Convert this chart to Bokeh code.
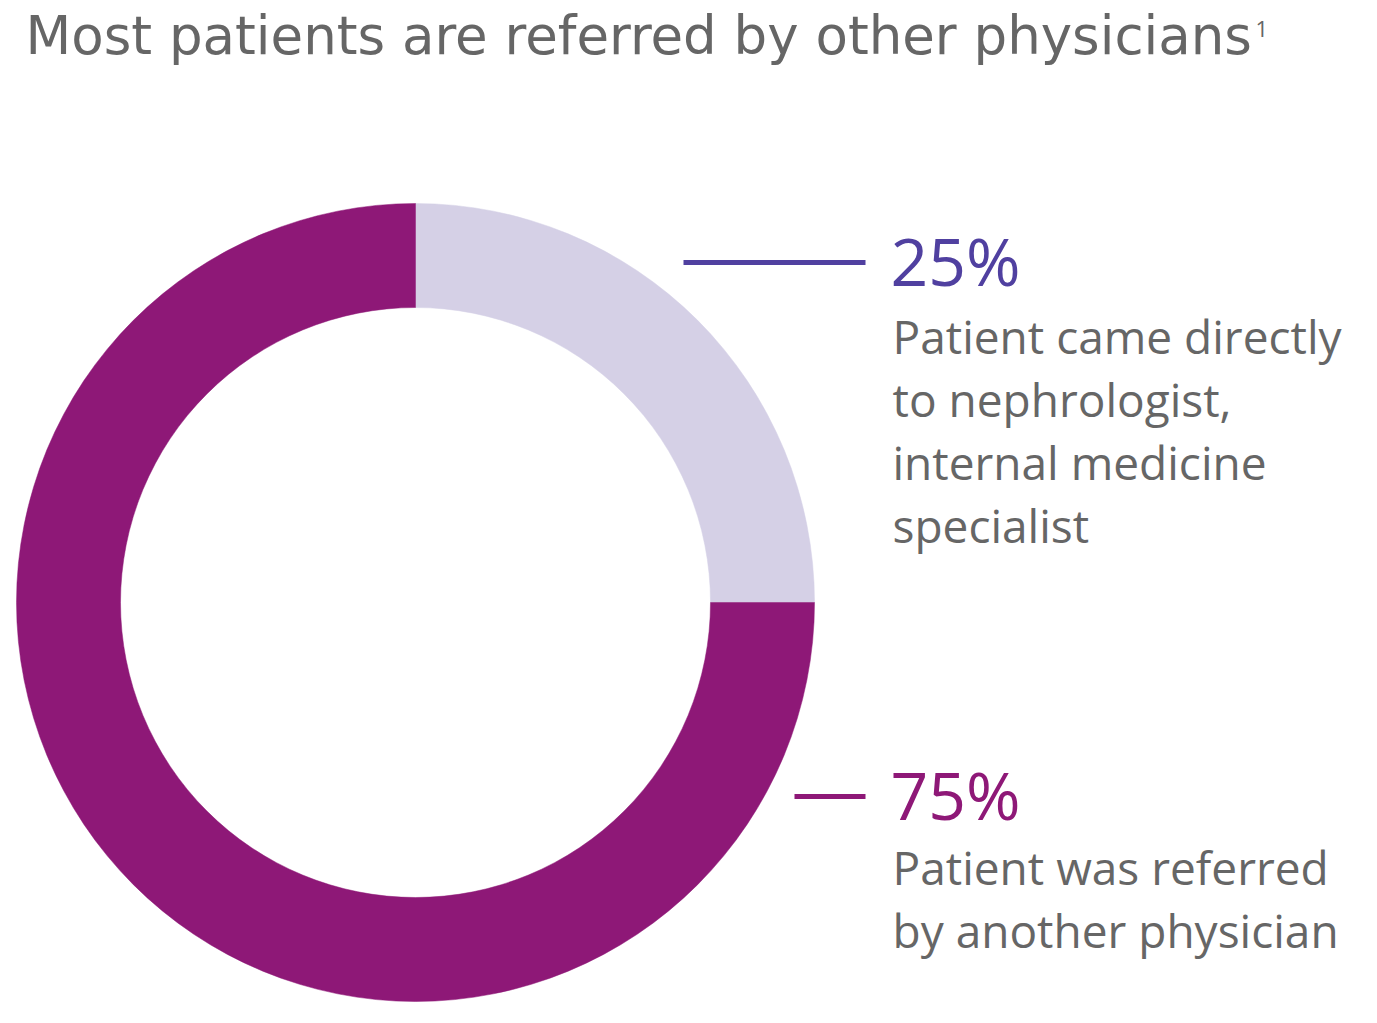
import math
from bokeh.plotting import figure
from bokeh.models import Range1d, ColumnDataSource
from bokeh.core.properties import value
from bokeh.embed import file_html
from bokeh.resources import INLINE

# ---- data ----
title_text = "Most patients are referred by other physicians"
footnote = "1"
categories = ["Came directly", "Referred"]
shares = [25, 75]
pct_labels = ["25%", "75%"]
desc_direct = ["Patient came directly", "to nephrologist,", "internal medicine", "specialist"]
desc_referred = ["Patient was referred", "by another physician"]

ring_colors = ["#D5D0E6", "#8E1877"]
accent_colors = ["#5040A0", "#8E1877"]
gray = "#666666"
FONT = "Open Sans"
TITLE_FONT = "DejaVu Sans"

W, H = 1360, 1005
p = figure(width=W, height=H, x_range=Range1d(0, W), y_range=Range1d(0, H),
           output_backend="svg", toolbar_location=None, min_border=0)
p.axis.visible = False
p.grid.visible = False
p.outline_line_color = None
p.background_fill_color = "white"
p.border_fill_color = "white"

def Y(sy):
    return H - sy
def X(sx):
    return sx

def tb(baseline, size):
    # compensate for the renderer's baseline placement
    return Y(baseline - 0.43 * size)

# donut wedges: start at top, go clockwise
total = float(sum(shares))
starts, ends = [], []
cum = 0.0
for s in shares:
    end = math.pi / 2 - cum / total * 2 * math.pi
    cum += s
    start = math.pi / 2 - cum / total * 2 * math.pi
    starts.append(start)
    ends.append(end)
src = ColumnDataSource(dict(cat=categories, start=starts, end=ends, color=ring_colors))
p.annular_wedge(x=X(415), y=Y(602), inner_radius=295, outer_radius=399,
                start_angle="start", end_angle="end", fill_color="color",
                line_color="color", line_width=0.5, source=src)

# title
p.text(x=[X(25)], y=[tb(58, 53)], text=[title_text], text_font=value(TITLE_FONT),
       text_font_size="53px", text_color=gray, text_baseline="alphabetic", text_align="left")
p.text(x=[X(1255)], y=[tb(38, 22)], text=[footnote], text_font=value(FONT),
       text_font_size="22px", text_color=gray, text_baseline="alphabetic", text_align="left")

# leader lines
p.segment(x0=[X(683), X(794)], y0=[Y(262), Y(796)], x1=[X(865), X(865)], y1=[Y(262), Y(796)],
          line_color=accent_colors, line_width=5)

# percent labels
p.text(x=[X(890), X(890)], y=[tb(288, 66), tb(822, 66)], text=pct_labels, text_font=value(FONT),
       text_font_size="66px", text_color=accent_colors, text_baseline="alphabetic", text_align="left")

# descriptions
BS = 46
ys1 = [tb(355 + 63 * i, BS) for i in range(len(desc_direct))]
p.text(x=[X(892)] * len(desc_direct), y=ys1, text=desc_direct, text_font=value(FONT),
       text_font_size=f"{BS}px", text_color=gray, text_baseline="alphabetic", text_align="left")
ys2 = [tb(886 + 63 * i, BS) for i in range(len(desc_referred))]
p.text(x=[X(892)] * len(desc_referred), y=ys2, text=desc_referred, text_font=value(FONT),
       text_font_size=f"{BS}px", text_color=gray, text_baseline="alphabetic", text_align="left")

open("out.html", "w").write(file_html(p, INLINE))
